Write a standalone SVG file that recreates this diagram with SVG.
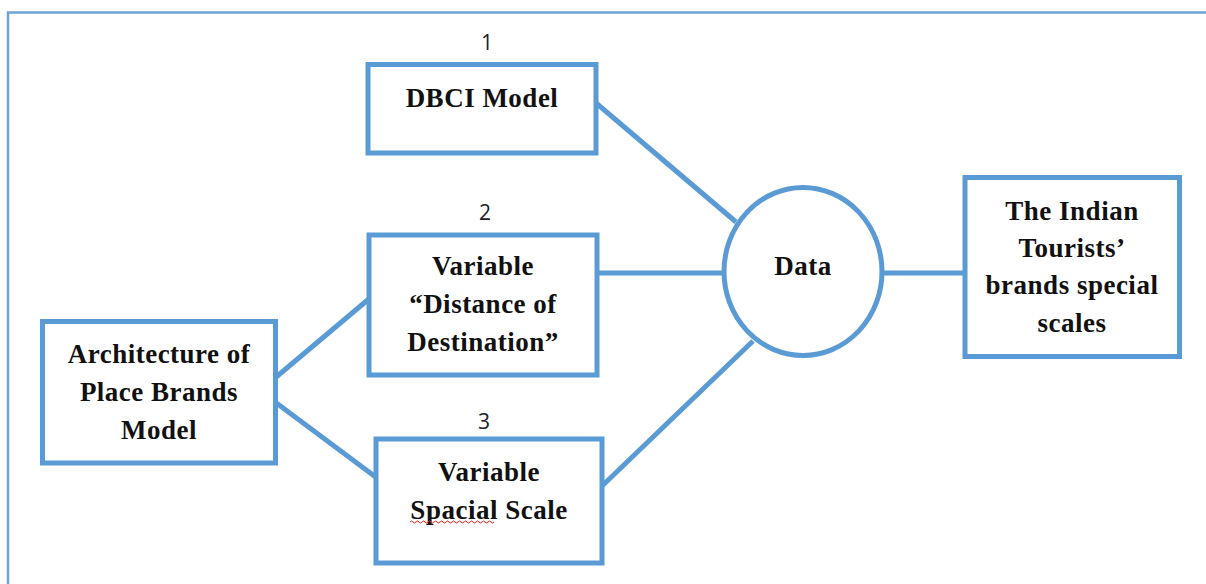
<svg xmlns="http://www.w3.org/2000/svg" width="1206" height="584" viewBox="0 0 1206 584">
<style>
.box{fill:#fff;stroke:#5b9bd5;stroke-width:5}
.frame{fill:none;stroke:#6fa3d8;stroke-width:2.5}
.con line{stroke:#5b9bd5;stroke-width:5}
.t{font-family:"Liberation Serif","Times New Roman",serif;font-weight:bold;font-size:27px;letter-spacing:0.5px;fill:#111;text-anchor:middle}
.n{font-family:"Open Sans","Liberation Sans",Arial,sans-serif;font-size:21px;fill:#222;text-anchor:middle}
</style>
<rect width="1206" height="584" fill="#fff"/>
<rect class="frame" x="8" y="12.5" width="1210" height="600"/>
<g class="con">
<line x1="596" y1="103" x2="736" y2="222"/>
<line x1="596" y1="273" x2="724" y2="273"/>
<line x1="602" y1="486" x2="753" y2="341"/>
<line x1="275" y1="378" x2="370" y2="298"/>
<line x1="275" y1="402" x2="377" y2="478"/>
<line x1="882" y1="273" x2="965" y2="273"/>
</g>
<g id="n1">
<text class="n" x="487" y="50">1</text>
<rect class="box" x="368" y="64.5" width="228" height="88.5"/>
<text class="t" x="482" y="107">DBCI Model</text>
</g>
<g id="n2">
<text class="n" x="485" y="220">2</text>
<rect class="box" x="369" y="235" width="228" height="140"/>
<text class="t" x="483" y="275">Variable</text>
<text class="t" x="483" y="313">“Distance of</text>
<text class="t" x="483" y="351">Destination”</text>
</g>
<g id="n3">
<text class="n" x="484" y="429">3</text>
<rect class="box" x="376" y="439" width="226" height="124"/>
<text class="t" x="489" y="481">Variable</text>
<text class="t" x="489" y="519">Spacial Scale</text>
<path d="M410 522 q1.5 -2 3 0 t3 0 t3 0 t3 0 t3 0 t3 0 t3 0 t3 0 t3 0 t3 0 t3 0 t3 0 t3 0 t3 0 t3 0 t3 0 t3 0 t3 0 t3 0 t3 0 t3 0 t3 0 t3 0 t3 0 t3 0 t3 0 t3 0 t3 0" fill="none" stroke="#e02020" stroke-width="1"/>
</g>
<g id="arch">
<rect class="box" x="42.5" y="321.5" width="233" height="141.5"/>
<text class="t" x="159" y="363">Architecture of</text>
<text class="t" x="159" y="401">Place Brands</text>
<text class="t" x="159" y="439">Model</text>
</g>
<g id="data">
<ellipse class="box" cx="803" cy="271.5" rx="79" ry="84"/>
<text class="t" x="803" y="275">Data</text>
</g>
<g id="out">
<rect class="box" x="965" y="177.5" width="214.5" height="179"/>
<text class="t" x="1072" y="220">The Indian</text>
<text class="t" x="1072" y="257">Tourists’</text>
<text class="t" x="1072" y="294">brands special</text>
<text class="t" x="1072" y="332">scales</text>
</g>
</svg>
